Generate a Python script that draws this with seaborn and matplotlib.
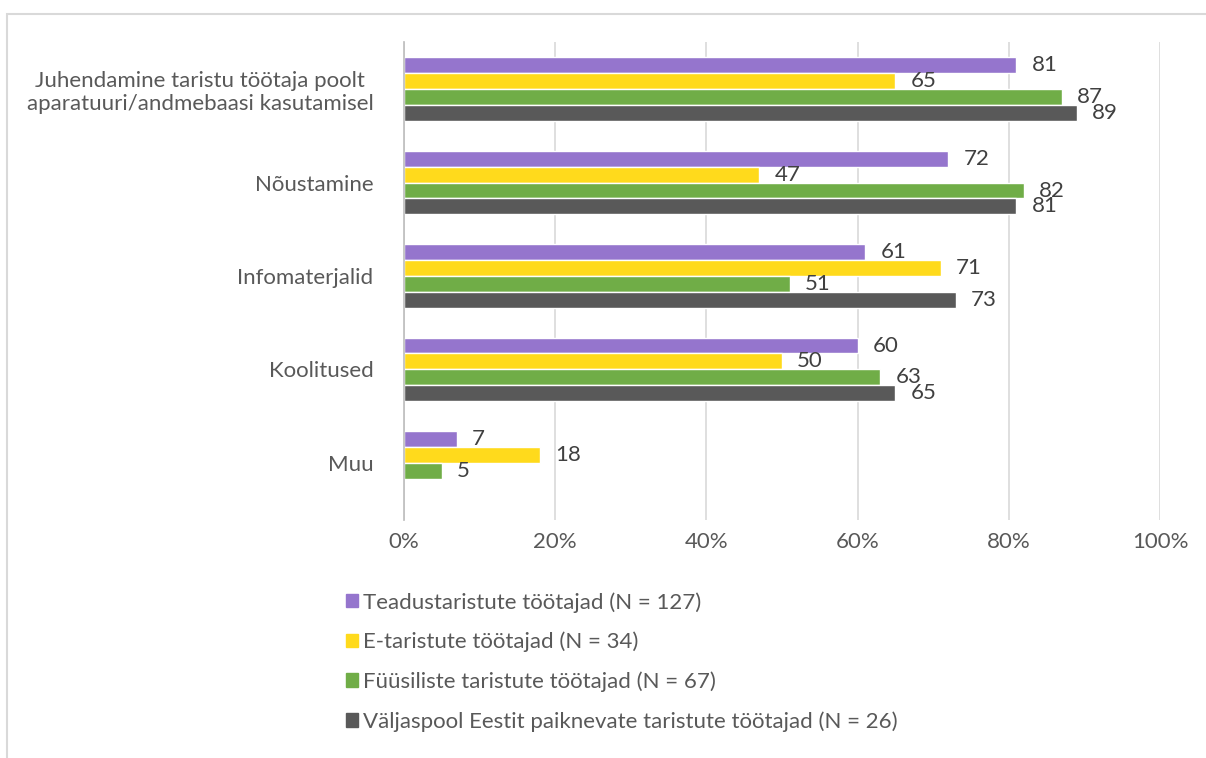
import numpy as np
import pandas as pd
import matplotlib.pyplot as plt
import matplotlib.patches as mpatches
import seaborn as sns

categories = [
    "Juhendamine taristu töötaja poolt\naparatuuri/andmebaasi kasutamisel",
    "Nõustamine",
    "Infomaterjalid",
    "Koolitused",
    "Muu",
]
series = [
    "Teadustaristute töötajad (N = 127)",
    "E-taristute töötajad (N = 34)",
    "Füüsiliste taristute töötajad (N = 67)",
    "Väljaspool Eestit paiknevate taristute töötajad (N = 26)",
]
teadus = [81, 72, 61, 60, 7]
e_taristu = [65, 47, 71, 50, 18]
fyysiline = [87, 82, 51, 63, 5]
valjaspool = [89, 81, 73, 65, np.nan]
colors = ["#9575CD", "#FFDA1C", "#70AD47", "#595959"]

rows = []
for name, vals in zip(series, [teadus, e_taristu, fyysiline, valjaspool]):
    for cat, v in zip(categories, vals):
        rows.append({"cat": cat, "series": name, "value": v})
df = pd.DataFrame(rows)

sns.set_theme(style="white")
plt.rcParams["font.family"] = ["Lato", "DejaVu Sans"]
text_col = "#595959"

fig = plt.figure(figsize=(12.06, 7.58), dpi=100)
ax = fig.add_axes([404 / 1206, 1 - 520 / 758, 756 / 1206, 478 / 758])

sns.barplot(data=df, y="cat", x="value", hue="series", orient="h",
            palette=colors, width=0.684, saturation=1, ax=ax,
            order=categories, hue_order=series, legend=False)

for cont in ax.containers:
    labels = ["" if np.isnan(w) else f"{w:.0f}" for w in cont.datavalues]
    ax.bar_label(cont, labels=labels, padding=11, fontsize=16, color="#404040")

ax.set_xlim(0, 100)
ax.set_ylim(4.61, -0.503)
ax.set_xticks(range(0, 101, 20))
ax.set_xticklabels([f"{t}%" for t in range(0, 101, 20)])
ax.grid(axis="x", color="#D9D9D9", linewidth=1.2)
ax.set_axisbelow(True)
for s in ["top", "right", "bottom"]:
    ax.spines[s].set_visible(False)
ax.spines["left"].set_color("#BFBFBF")
ax.tick_params(axis="x", length=0, pad=9, labelsize=16, labelcolor=text_col)
ax.tick_params(axis="y", length=0, pad=22, labelsize=16, labelcolor=text_col)
for t in ax.get_yticklabels():
    t.set_multialignment("center")
ax.set_xlabel("")
ax.set_ylabel("")

handles = [mpatches.Patch(color=c, label=s) for c, s in zip(colors, series)]
fig.legend(handles=handles, loc="upper left", bbox_to_anchor=(326 / 1206, 1 - 572 / 758),
           frameon=False, fontsize=16, labelcolor=text_col, handlelength=0.55,
           handleheight=0.55, handletextpad=0.2, labelspacing=0.86)

# chart area border
fig.add_artist(mpatches.Rectangle((7 / 1206, -0.05), 1.1, 1 - 14 / 758 + 0.05,
                                  transform=fig.transFigure, fill=False,
                                  edgecolor="#D9D9D9", linewidth=1.5))

fig.savefig("out.png", dpi=100, facecolor="white")
